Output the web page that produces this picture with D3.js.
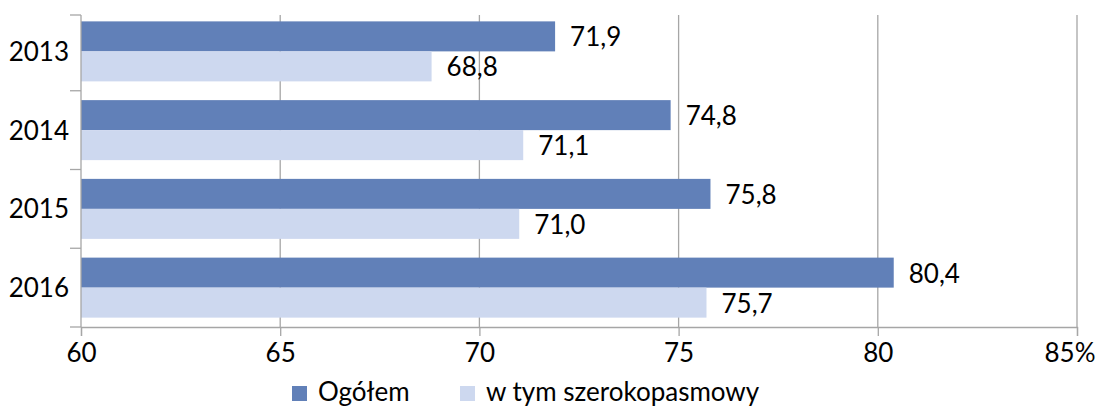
<!DOCTYPE html>
<html>
<head>
<meta charset="utf-8">
<script src="https://cdn.jsdelivr.net/npm/d3@7"></script>
<style>
  body { margin: 0; background: #fff; }
  text { font-family: Lato, "Open Sans", sans-serif; fill: #000; }
</style>
</head>
<body>
<script>
const years = ["2013", "2014", "2015", "2016"];
const ogolem = [71.9, 74.8, 75.8, 80.4];
const szerokopasmowy = [68.8, 71.1, 71.0, 75.7];
const xTicks = [60, 65, 70, 75, 80, 85];
const seriesNames = ["Ogółem", "w tym szerokopasmowy"];
const colors = ["#6180b8", "#cdd8ef"];

const w = 1099, h = 408;
const plotLeft = 81, plotRight = 1077, plotTop = 15, plotBottom = 327;
const fs = 26;

const svg = d3.select("body").append("svg")
  .attr("width", w)
  .attr("height", h);

const x = d3.scaleLinear().domain([60, 85]).range([plotLeft, plotRight]);
const y = d3.scaleBand().domain(years).range([12, plotBottom]);
const barH = 30;

// gridlines
svg.append("g")
  .selectAll("line")
  .data(xTicks.slice(1))
  .enter().append("line")
  .attr("x1", d => x(d)).attr("x2", d => x(d))
  .attr("y1", plotTop).attr("y2", plotBottom)
  .attr("stroke", "#a6a6a6")
  .attr("stroke-width", 1.3);

// bars
const series = [ogolem, szerokopasmowy];
series.forEach((vals, s) => {
  svg.append("g").selectAll("rect")
    .data(vals)
    .enter().append("rect")
    .attr("x", x(60))
    .attr("y", (d, i) => y(years[i]) + y.bandwidth() / 2 - barH + s * barH)
    .attr("width", d => x(d) - x(60))
    .attr("height", barH)
    .attr("fill", colors[s]);

  svg.append("g").selectAll("text")
    .data(vals)
    .enter().append("text")
    .attr("x", d => x(d) + 15)
    .attr("y", (d, i) => y(years[i]) + y.bandwidth() / 2 - barH / 2 + s * barH + 10)
    .style("font-size", fs + "px")
    .text(d => d.toFixed(1).replace(".", ","));
});

// x axis
const xAxis = d3.axisBottom(x)
  .tickValues(xTicks)
  .tickSize(9)
  .tickPadding(6)
  .tickFormat(d => d === 85 ? "85%" : d);

const gx = svg.append("g")
  .attr("transform", "translate(0," + plotBottom + ")")
  .call(xAxis);
gx.attr("font-family", null).attr("font-size", null);
gx.select(".domain").attr("stroke", "#a6a6a6").attr("stroke-width", 1.3);
gx.selectAll(".tick line").attr("stroke", "#a6a6a6").attr("stroke-width", 1.3);
gx.selectAll(".tick text")
  .style("font-size", fs + "px")
  .attr("dy", null)
  .attr("y", 35);
gx.selectAll(".tick text").filter(d => d === 85)
  .attr("text-anchor", "end")
  .attr("x", 1095 - x(85));

// y axis: ticks at band boundaries
const gy = svg.append("g");
gy.append("line")
  .attr("x1", plotLeft).attr("x2", plotLeft)
  .attr("y1", plotTop).attr("y2", plotBottom)
  .attr("stroke", "#a6a6a6").attr("stroke-width", 1.3);
const bounds = years.map(d => y(d)).concat([plotBottom]);
bounds[0] = plotTop;
gy.selectAll(".yt")
  .data(bounds)
  .enter().append("line")
  .attr("x1", plotLeft - 11).attr("x2", plotLeft)
  .attr("y1", d => d).attr("y2", d => d)
  .attr("stroke", "#a6a6a6").attr("stroke-width", 1.3);
gy.selectAll("text")
  .data(years)
  .enter().append("text")
  .attr("x", 69)
  .attr("y", d => y(d) + y.bandwidth() / 2 + 9.5)
  .attr("text-anchor", "end")
  .style("font-size", fs + "px")
  .text(d => d);

// legend
const legX = [292, 460];
const legend = svg.append("g");
seriesNames.forEach((name, i) => {
  legend.append("rect")
    .attr("x", legX[i]).attr("y", 386)
    .attr("width", 15).attr("height", 15)
    .attr("fill", colors[i]);
  legend.append("text")
    .attr("x", legX[i] + 26).attr("y", 401)
    .style("font-size", fs + "px")
    .text(name);
});
</script>
</body>
</html>
